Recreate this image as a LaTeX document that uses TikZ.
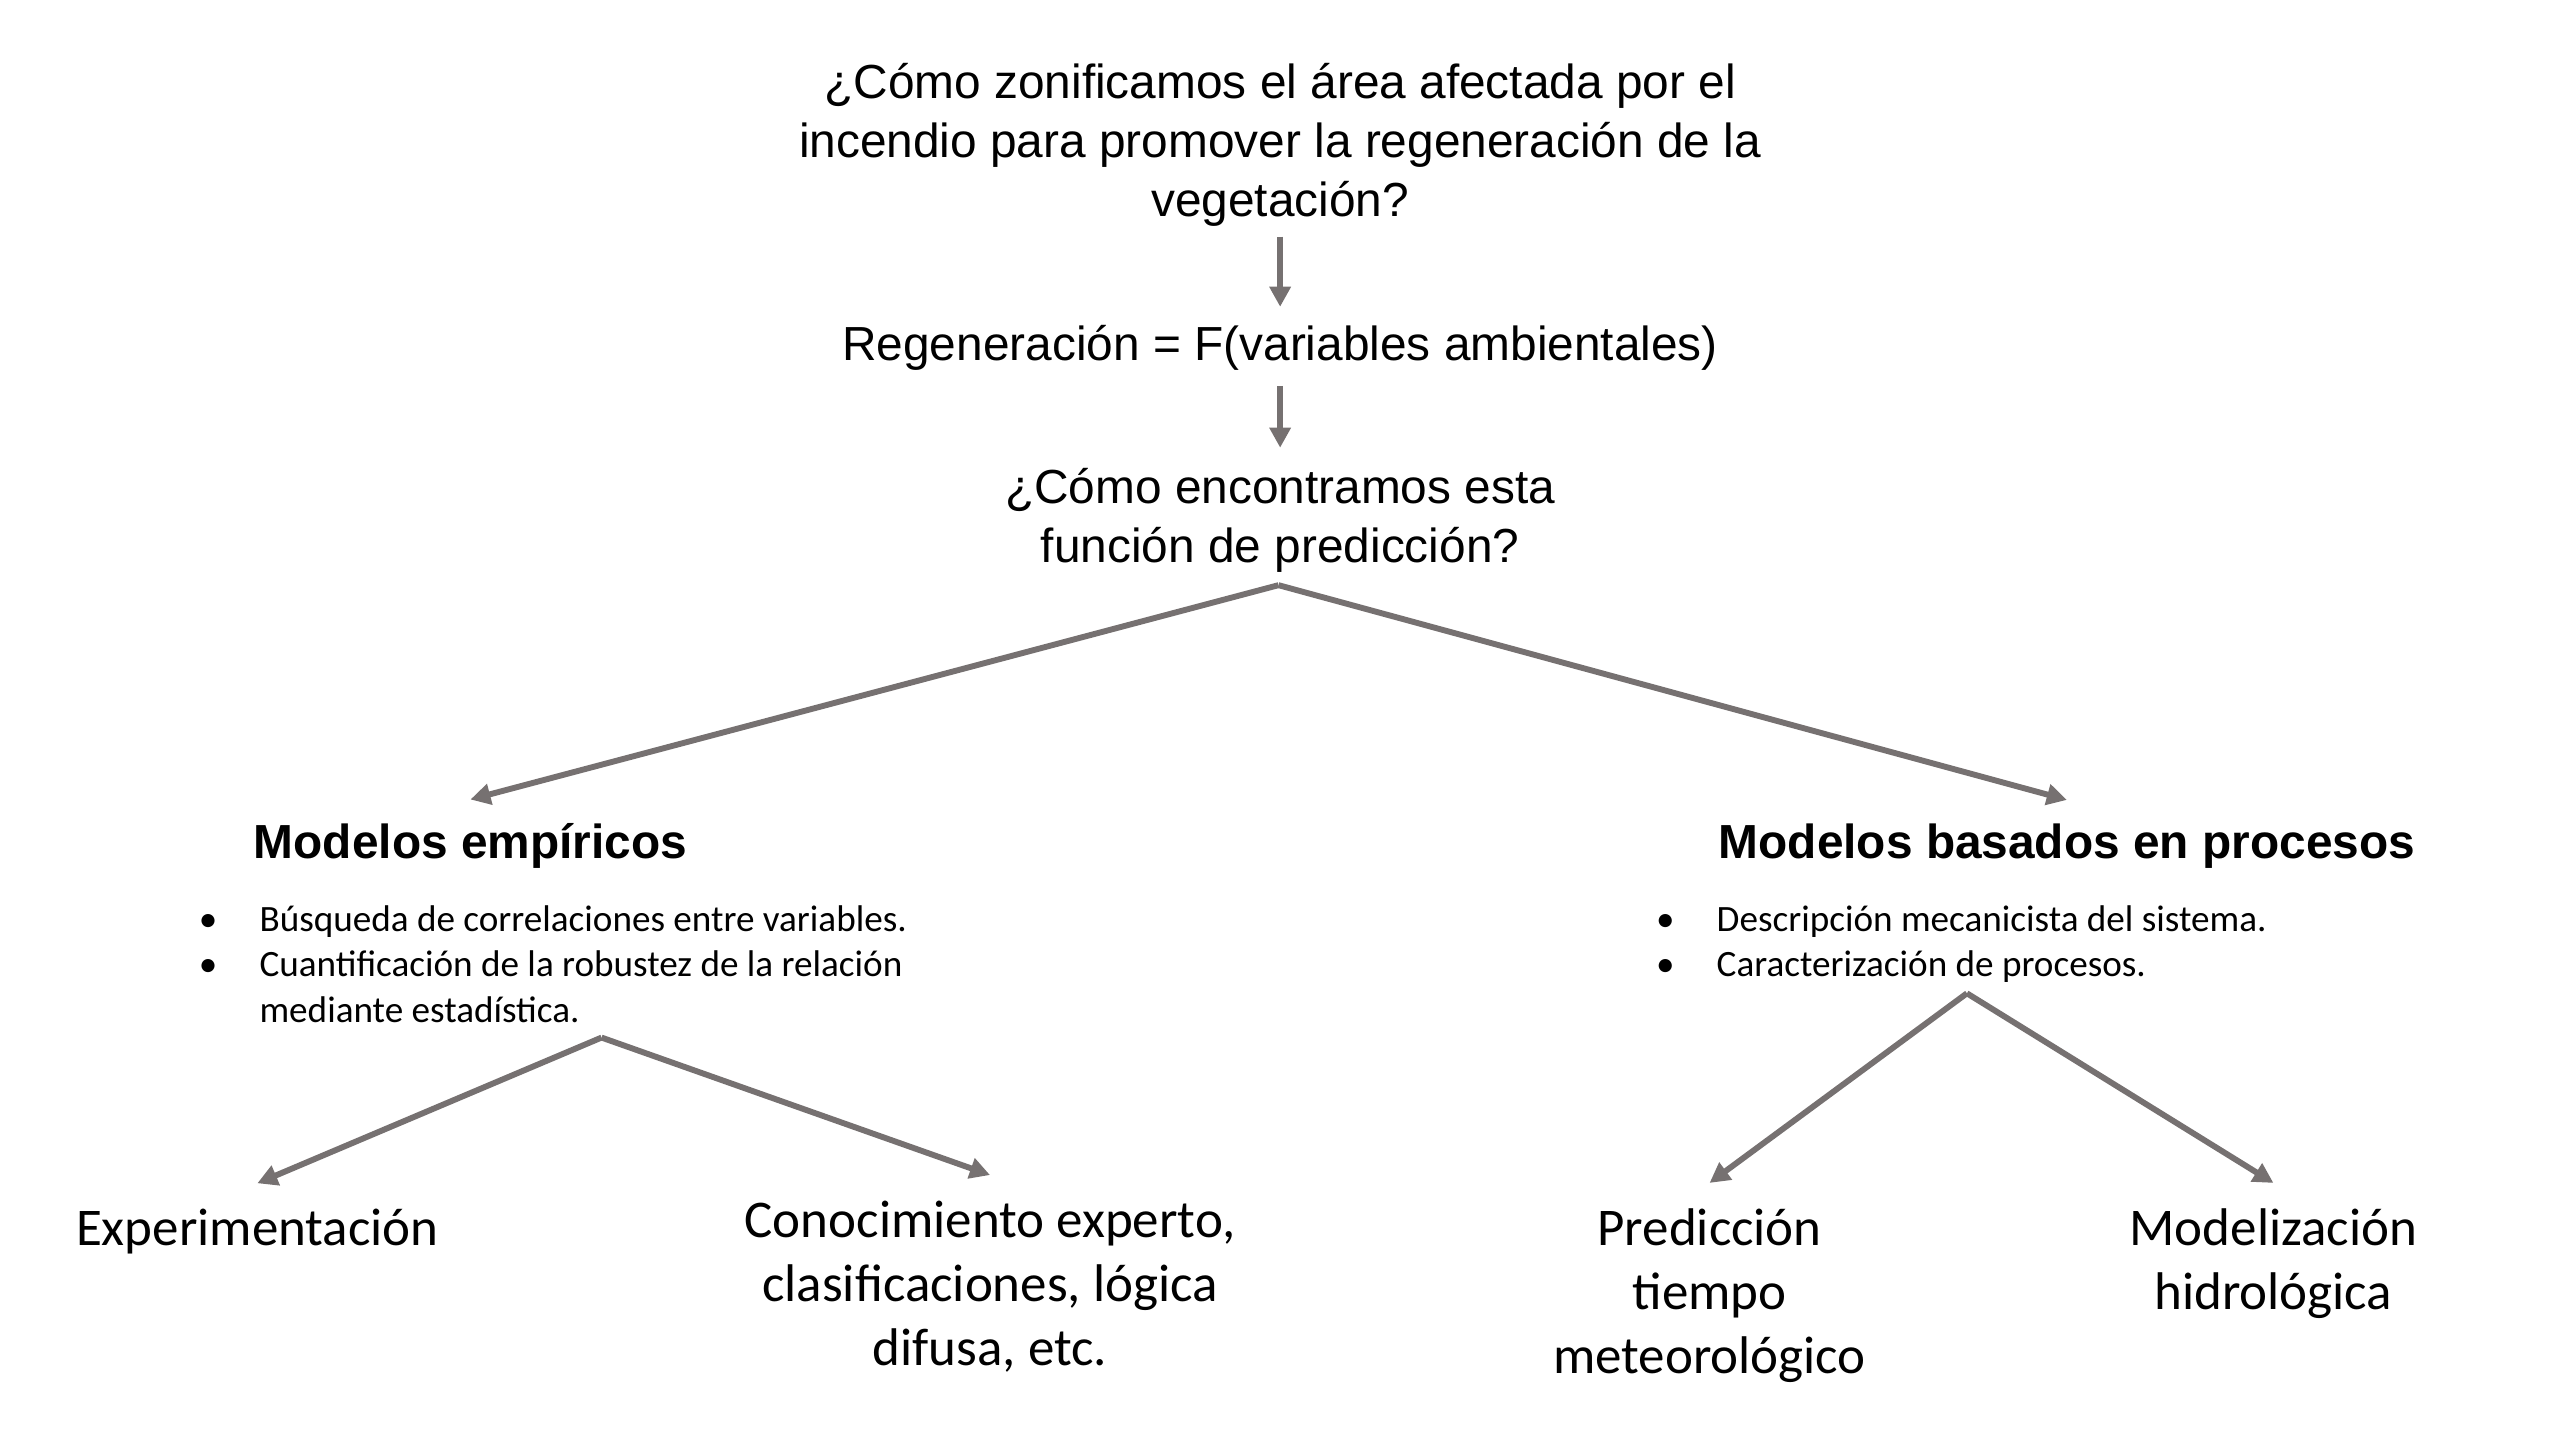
\documentclass[tikz,border=0pt]{standalone}
\usepackage{fontspec}
\setmainfont{Liberation Sans}
\newfontfamily\calibri{Carlito}
\usepackage{xcolor}
\usetikzlibrary{arrows.meta}
\definecolor{gris}{RGB}{118,113,113}

\begin{document}
\begin{tikzpicture}[
        x=0.2mm, y=-0.2mm,
        pregunta/.style={
            align=center, inner sep=0pt, anchor=base,
            font=\fontsize{16.6}{20.5}\selectfont
          },
        titulo/.style={
            inner xsep=0pt, inner ysep=2.9mm, anchor=base,
            font=\bfseries\fontsize{16.6}{20.5}\selectfont
          },
        vineta/.style={
            inner sep=0pt, anchor=base west,
            font=\calibri\fontsize{12.9}{15.9}\selectfont
          },
        hoja/.style={
            align=center, inner xsep=0pt, inner ysep=3.1mm, anchor=base,
            font=\calibri\fontsize{18.4}{22.2}\selectfont
          },
        flecha/.style={
            draw=gris, line width=0.72mm,
            -{Triangle[length=2.45mm,width=2.5mm]}
          }
      ]
      \useasboundingbox (0,0) rectangle (1560,877.3);

      % preguntas de partida
      \node[pregunta] (zonas) at (781,132)
        {¿Cómo zonificamos el área afectada por el\\
         incendio para promover la regeneración de la\\
         vegetación?};
      \node[pregunta] (regen) at (781,220)
        {Regeneración = F(variables ambientales)};
      \node[pregunta] (funcion) at (781,343)
        {¿Cómo encontramos esta\\ función de predicción?};

      \draw[flecha, shorten <=1.2mm, shorten >=2.2mm] (zonas.south) -- (regen.north);
      \draw[flecha, shorten <=1.8mm, shorten >=2.4mm] (regen.south) -- (funcion.north);

      % dos familias de modelos
      \node[titulo] (empiricos) at (287,524) {Modelos empíricos};
      \node[titulo] (procesos) at (1261,524) {Modelos basados en procesos};

      \node[vineta] (listaEmp) at (121,568)
        {\begin{tabular}[t]{@{}p{7.4mm}@{}l@{}}
           \textbullet & Búsqueda de correlaciones entre variables.\\
           \textbullet & Cuantificación de la robustez de la relación\\
                       & mediante estadística.
         \end{tabular}};
      \node[vineta] (listaProc) at (1010,568)
        {\begin{tabular}[t]{@{}p{7.4mm}@{}l@{}}
           \textbullet & Descripción mecanicista del sistema.\\
           \textbullet & Caracterización de procesos.
         \end{tabular}};

      \coordinate (bifFuncion) at (780,357);
      \draw[flecha] (bifFuncion) -- (empiricos.north);
      \draw[flecha] (bifFuncion) -- (procesos.north);

      % aproximaciones concretas
      \node[hoja] (experim) at (157,760) {Experimentación};
      \node[hoja] (experto) at (604,833)
        {Conocimiento experto,\\ clasificaciones, lógica\\ difusa, etc.};
      \node[hoja] (tiempo) at (1043,838)
        {Predicción\\ tiempo\\ meteorológico};
      \node[hoja] (hidro) at (1387,799)
        {Modelización\\ hidrológica};

      \coordinate (bifEmp) at (367,633);
      \coordinate (bifProc) at (1200,606);
      \draw[flecha] (bifEmp) -- (experim.north);
      \draw[flecha] (bifEmp) -- (experto.north);
      \draw[flecha] (bifProc) -- (tiempo.north);
      \draw[flecha] (bifProc) -- (hidro.north);

    \end{tikzpicture}
\end{document}
